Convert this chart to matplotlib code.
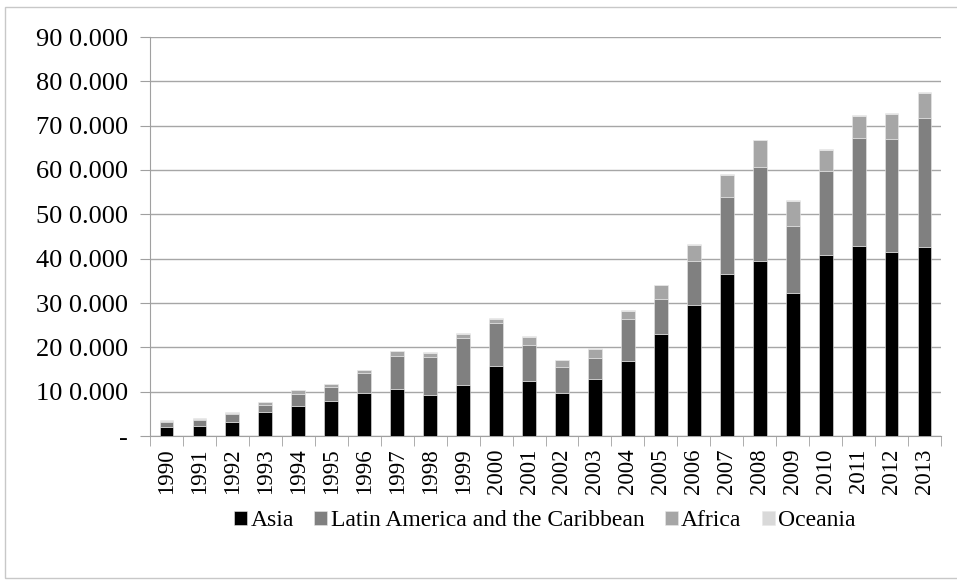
import matplotlib
matplotlib.use("Agg")
import matplotlib.pyplot as plt
import numpy as np

years = [str(y) for y in range(1990, 2014)]
asia = [2.1, 2.3, 3.2, 5.5, 6.7, 8.0, 9.6, 10.6, 9.2, 11.4, 15.8, 12.4,
        9.8, 12.9, 17.0, 23.0, 29.6, 36.5, 39.5, 32.3, 40.8, 42.9, 41.4, 42.6]
latin = [1.0, 1.2, 1.8, 1.6, 2.8, 3.1, 4.7, 7.4, 8.7, 10.6, 9.8, 8.1,
         5.8, 4.8, 9.5, 7.9, 9.9, 17.3, 21.1, 15.1, 19.0, 24.4, 25.7, 29.2]
africa = [0.3, 0.4, 0.3, 0.5, 0.8, 0.6, 0.5, 1.1, 0.9, 1.1, 0.9, 1.9,
          1.5, 1.9, 1.8, 3.1, 3.6, 5.1, 6.1, 5.7, 4.7, 4.9, 5.5, 5.6]
oceania = [0.1, 0.1, 0.1, 0.1, 0.1, 0.1, 0.1, 0.1, 0.1, 0.1, 0.1, 0.2,
           0.1, 0.2, 0.1, 0.1, 0.1, 0.1, 0.1, 0.2, 0.2, 0.2, 0.3, 0.3]
series_names = ["Asia", "Latin America and the Caribbean", "Africa", "Oceania"]
ytick_vals = [0, 10, 20, 30, 40, 50, 60, 70, 80, 90]
ytick_labels = ["-", "10 0.000", "20 0.000", "30 0.000", "40 0.000", "50 0.000",
                "60 0.000", "70 0.000", "80 0.000", "90 0.000"]

plt.rcParams['font.family'] = ['Liberation Serif', 'DejaVu Serif']

fig = plt.figure(figsize=(9.57, 5.81), dpi=100)
ax = fig.add_axes([150/957, 1-436/581, (941-150)/957, (436-37)/581])

# outer chart border
fig.patches.append(plt.Rectangle((5/957, 0.005), 0.999, 1-10/581, transform=fig.transFigure,
                                 fill=False, edgecolor='#c8c8c8', lw=1))

colors = ['#000000', '#808080', '#a6a6a6', '#d9d9d9']
x = np.arange(len(years))
bottom = np.zeros(len(years))
for name, vals, c in zip(series_names, [asia, latin, africa, oceania], colors):
    ax.bar(x, vals, width=0.42, bottom=bottom, color=c, label=name,
           edgecolor='#e8e8e8', linewidth=0.4, zorder=3)
    bottom += np.array(vals)

ax.set_xlim(-0.5, len(years) - 0.5)
ax.set_ylim(0, 90)
ax.set_yticks(ytick_vals)
ax.set_yticklabels(ytick_labels, fontsize=19)
ax.set_xticks(x)
ax.set_xticklabels(years, rotation=90, fontsize=16.5)
ax.tick_params(axis='x', length=0, pad=9)
ax.set_xticks(np.arange(-0.5, len(years)), minor=True)
ax.tick_params(axis='x', which='minor', length=7, color='#a0a0a0', direction='out')
ax.tick_params(axis='y', length=7, color='#a0a0a0', pad=9)

ax.yaxis.grid(True, color='#a6a6a6', lw=1, zorder=0)
for s in ['top', 'right']:
    ax.spines[s].set_visible(False)
ax.spines['left'].set_color('#a0a0a0')
ax.spines['bottom'].set_color('#a0a0a0')

handles, labels = ax.get_legend_handles_labels()
fig.legend(handles, labels, loc='center', bbox_to_anchor=(545/957, 1-521/581), ncol=4,
           frameon=False, fontsize=17, handlelength=0.55, handleheight=0.55,
           handletextpad=0.15, columnspacing=0.85)

fig.savefig('out.png', dpi=100)
